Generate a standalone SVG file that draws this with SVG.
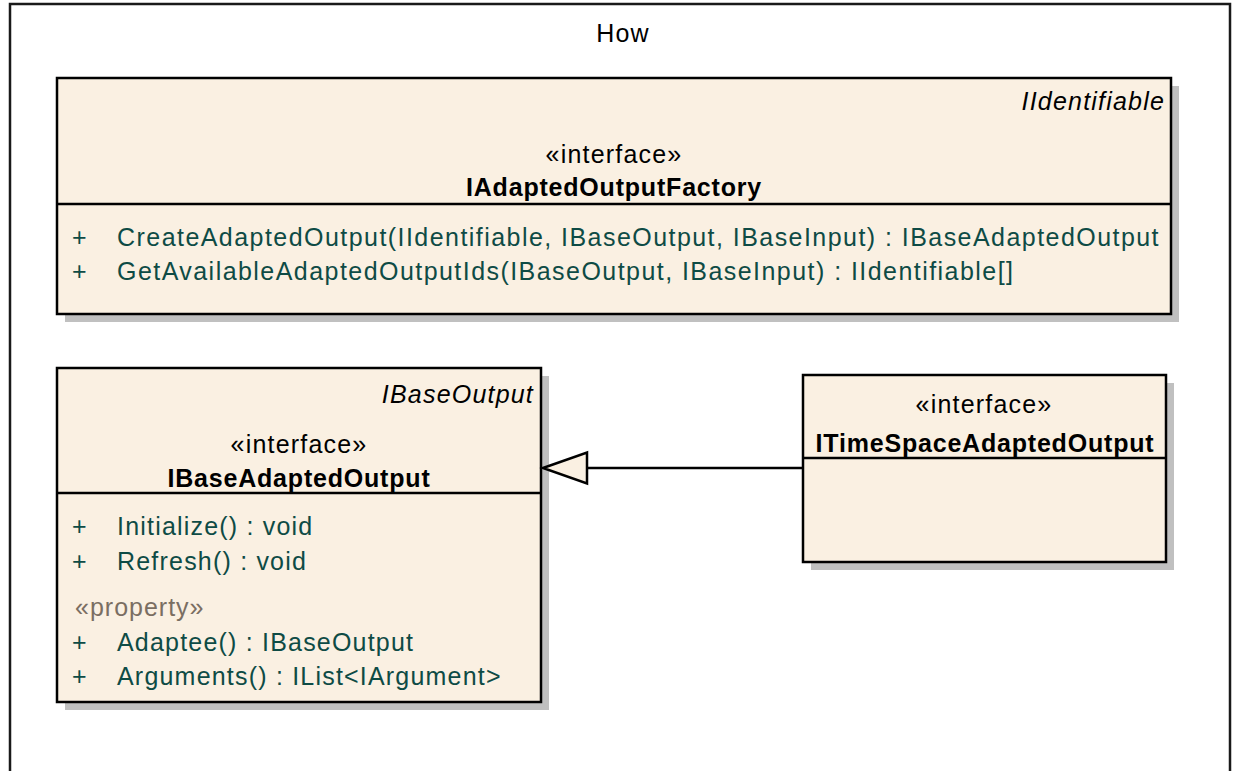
<svg xmlns="http://www.w3.org/2000/svg" width="1233" height="771" viewBox="0 0 1233 771">
  <style>
    .frame { fill: #ffffff; stroke: #1a1a1a; stroke-width: 2.5; }
    .shadow { fill: #c0c0c0; }
    .box { fill: #faf0e2; stroke: #000000; stroke-width: 2.5; }
    .sep { stroke: #000000; stroke-width: 2.5; }
    .t { font-family: "Liberation Sans", Arial, sans-serif; font-size: 25px; fill: #000000; letter-spacing: 1.2px; }
    .title { font-family: "Liberation Sans", Arial, sans-serif; font-size: 25px; font-weight: bold; fill: #000000; letter-spacing: 0.8px; }
    .tag { font-family: "Liberation Sans", Arial, sans-serif; font-size: 25px; font-style: italic; fill: #000000; letter-spacing: 1.2px; }
    .op { font-family: "Liberation Sans", Arial, sans-serif; font-size: 25px; fill: #0e4b45; letter-spacing: 1.2px; }
    .op.wide { letter-spacing: 1.45px; }
    .st { font-family: "Liberation Sans", Arial, sans-serif; font-size: 25px; fill: #7a6e62; letter-spacing: 1px; }
    .link { stroke: #000000; stroke-width: 2.5; fill: none; }
    .head { fill: #faf0e2; stroke: #000000; stroke-width: 2.5; stroke-linejoin: miter; }
  </style>

  <!-- package frame -->
  <g id="frame-how">
    <rect class="frame" x="10" y="4" width="1220" height="800"/>
    <text class="t" x="623" y="42" text-anchor="middle">How</text>
  </g>

  <!-- IAdaptedOutputFactory -->
  <g id="node-factory">
    <rect class="shadow" x="65" y="86" width="1114" height="236"/>
    <rect class="box" x="57" y="78" width="1114" height="236"/>
    <text class="tag" x="1165" y="110" text-anchor="end">IIdentifiable</text>
    <text class="t" x="614" y="163" text-anchor="middle">«interface»</text>
    <text class="title" x="614" y="196" text-anchor="middle">IAdaptedOutputFactory</text>
    <line class="sep" x1="57" y1="204" x2="1171" y2="204"/>
    <text class="op" x="72" y="246">+</text>
    <text class="op wide" x="117" y="246">CreateAdaptedOutput(IIdentifiable, IBaseOutput, IBaseInput) : IBaseAdaptedOutput</text>
    <text class="op" x="72" y="280">+</text>
    <text class="op wide" x="117" y="280">GetAvailableAdaptedOutputIds(IBaseOutput, IBaseInput) : IIdentifiable[]</text>
  </g>

  <!-- IBaseAdaptedOutput -->
  <g id="node-base-adapted">
    <rect class="shadow" x="65" y="376" width="484" height="334"/>
    <rect class="box" x="57" y="368" width="484" height="334"/>
    <text class="tag" x="534" y="403" text-anchor="end">IBaseOutput</text>
    <text class="t" x="299" y="453" text-anchor="middle">«interface»</text>
    <text class="title" x="299" y="487" text-anchor="middle">IBaseAdaptedOutput</text>
    <line class="sep" x1="57" y1="493" x2="541" y2="493"/>
    <text class="op" x="72" y="535">+</text>
    <text class="op" x="117" y="535">Initialize() : void</text>
    <text class="op" x="72" y="570">+</text>
    <text class="op" x="117" y="570">Refresh() : void</text>
    <text class="st" x="75" y="616">«property»</text>
    <text class="op" x="72" y="651">+</text>
    <text class="op" x="117" y="651">Adaptee() : IBaseOutput</text>
    <text class="op" x="72" y="685">+</text>
    <text class="op" x="117" y="685">Arguments() : IList&lt;IArgument&gt;</text>
  </g>

  <!-- ITimeSpaceAdaptedOutput -->
  <g id="node-timespace">
    <rect class="shadow" x="811" y="383" width="363" height="187"/>
    <rect class="box" x="803" y="375" width="363" height="187"/>
    <text class="t" x="984" y="413" text-anchor="middle">«interface»</text>
    <text class="title" x="985" y="452" text-anchor="middle">ITimeSpaceAdaptedOutput</text>
    <line class="sep" x1="803" y1="458" x2="1166" y2="458"/>
  </g>

  <!-- generalization: ITimeSpaceAdaptedOutput -> IBaseAdaptedOutput -->
  <g id="connectors">
    <line class="link" x1="587" y1="468" x2="803" y2="468"/>
    <polygon class="head" points="543,468 587,452.5 587,483.5"/>
  </g>
</svg>
